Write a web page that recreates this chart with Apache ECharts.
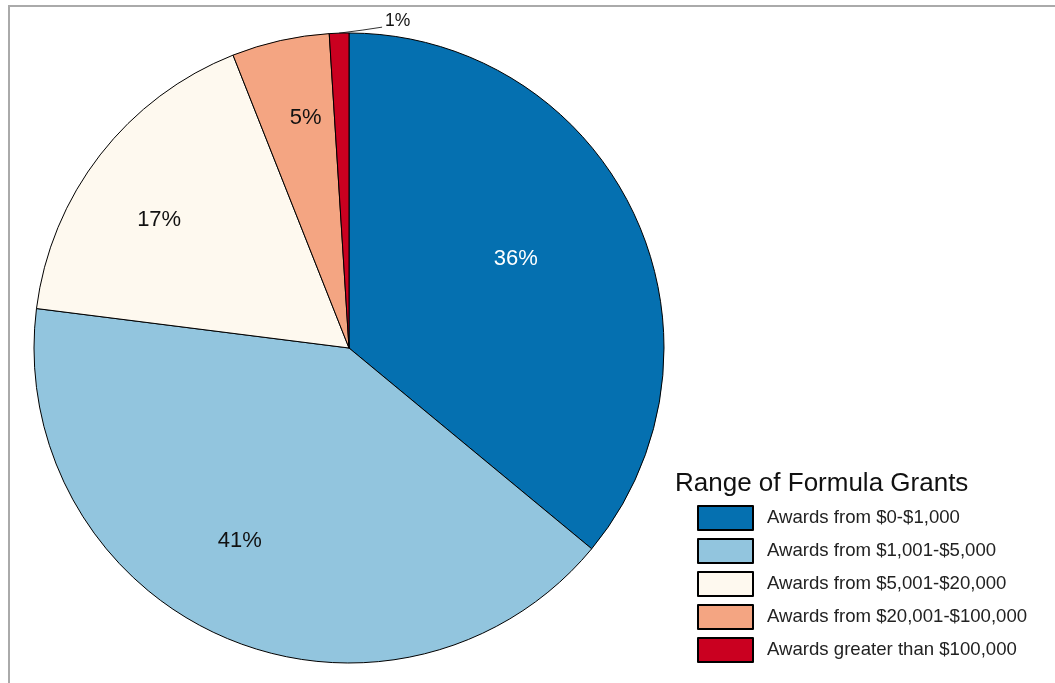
<!DOCTYPE html>
<html>
<head>
<meta charset="utf-8">
<script src="https://cdn.jsdelivr.net/npm/echarts@6/dist/echarts.min.js"></script>
<style>
  html, body { margin: 0; padding: 0; background: #fff; }
  #chart { width: 1055px; height: 683px; }
</style>
</head>
<body>
<div id="chart"></div>
<script>
// data
const categories = [
  'Awards from $0-$1,000',
  'Awards from $1,001-$5,000',
  'Awards from $5,001-$20,000',
  'Awards from $20,001-$100,000',
  'Awards greater than $100,000'
];
const shares = [36, 41, 17, 5, 1];
const colors = ['#0570b0', '#92c5de', '#fef9ef', '#f4a582', '#ca0020'];

// layout of the pie
const cx = 349, cy = 348, R = 315;
// where each inside label sits: fraction of radius, and nudge from mid-angle (deg)
const labelRatio = [0.6, 0.704, 0.727, 0.743, null];
const labelNudge = [-2.9, 6.1, -3.8, 1.9, 0];

const total = shares.reduce((a, b) => a + b, 0);
const midAngles = [];
let acc = 0;
shares.forEach(v => {
  midAngles.push((acc + v / 2) / total * Math.PI * 2);
  acc += v;
});

const chart = echarts.init(document.getElementById('chart'));

const option = {
  animation: false,
  textStyle: { fontFamily: '"Liberation Sans", Arial, sans-serif' },
  title: {
    text: 'Range of Formula Grants',
    left: 675,
    top: 471,
    padding: 0,
    textStyle: { fontSize: 26, fontWeight: 'normal', color: '#111' }
  },
  legend: {
    orient: 'vertical',
    left: 697,
    top: 505,
    padding: 0,
    icon: 'rect',
    itemWidth: 55,
    itemHeight: 24,
    itemGap: 7,
    selectedMode: false,
    data: categories,
    textStyle: { fontSize: 18.6, color: '#222', padding: [0, 0, 0, 9] }
  },
  graphic: [{
    type: 'rect',
    shape: { x: 9, y: 6, width: 2000, height: 2000 },
    style: { fill: 'none', stroke: '#aaaaaa', lineWidth: 2 },
    silent: true
  }],
  series: [{
    type: 'pie',
    center: [cx, cy],
    radius: R,
    startAngle: 90,
    clockwise: true,
    avoidLabelOverlap: false,
    itemStyle: { borderColor: '#000', borderWidth: 1 },
    data: categories.map((name, i) => ({
      name: name,
      value: shares[i],
      itemStyle: { color: colors[i] },
      label: labelRatio[i] == null
        ? { show: true, position: 'outside', fontSize: 17.5, color: '#111' }
        : { show: true, position: 'inside', fontSize: 22, color: i === 0 ? '#fff' : '#111' },
      labelLine: { show: labelRatio[i] == null, lineStyle: { color: '#333', width: 1 } }
    })),
    label: {
      formatter: p => shares[p.dataIndex] + '%'
    },
    labelLayout: function (params) {
      const i = params.dataIndex;
      const a = midAngles[i] + labelNudge[i] * Math.PI / 180;
      if (labelRatio[i] != null) {
        return {
          x: cx + labelRatio[i] * R * Math.sin(a),
          y: cy - labelRatio[i] * R * Math.cos(a),
          align: 'center',
          verticalAlign: 'middle'
        };
      }
      const ex = cx + R * Math.sin(a), ey = cy - R * Math.cos(a);
      const lx = ex + 46, ly = ey - 12;
      return {
        x: lx,
        y: ly,
        align: 'left',
        verticalAlign: 'middle',
        labelLinePoints: [[ex, ey], [(ex + lx) / 2, (ey + ly + 6) / 2], [lx - 3, ly + 6]]
      };
    }
  }]
};

chart.setOption(option);
</script>
</body>
</html>
